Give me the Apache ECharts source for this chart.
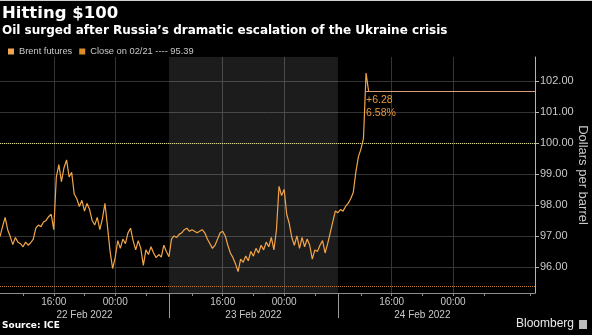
<!DOCTYPE html>
<html><head><meta charset="utf-8">
<script src="https://cdn.jsdelivr.net/npm/echarts@6/dist/echarts.min.js"></script>
<style>html,body{margin:0;padding:0;background:#000;}#c{width:592px;height:335px;}</style>
</head><body><div id="c"></div>
<script>
// ---- data ----
const sessionDates = ['2022-02-22','2022-02-23','2022-02-24','2022-02-25'];
const dateLabels = ['22 Feb 2022','23 Feb 2022','24 Feb 2022'];
const timeTickLabels = ['16:00','00:00'];
const yTickValues = [96,97,98,99,100,101,102];
// Brent futures, 20-minute samples, trading sessions 09:00 -> 07:00 (HK time)
const brentDay1 = [96.98,97.3,97.6,97.2,96.98,96.72,96.95,96.8,96.75,96.65,
  96.8,96.7,96.78,96.9,97.25,97.35,97.3,97.45,97.5,97.62,
  97.7,97.2,98.9,99.3,98.75,99.2,99.45,98.9,99.05,98.35,
  98.2,97.95,98.15,97.8,98.05,97.85,97.5,97.35,97.6,97.2,
  97.55,98.05,97.3,96.5,95.95,96.3,96.85,96.6,96.9,96.75,
  97.1,97.25,96.85,96.55,96.85,96.6,96.05,96.55,96.4,96.65,
  96.45,96.3,96.4,96.32,96.7,96.5];
const brentDay2 = [96.33,96.9,97.0,96.95,97.05,97.1,97.2,97.25,97.15,97.2,
  97.15,97.1,97.15,97.2,97.1,96.9,96.75,96.6,96.7,96.9,
  97.1,97.15,97.0,96.7,96.45,96.3,96.1,95.85,96.25,96.15,
  96.35,96.2,96.5,96.35,96.6,96.45,96.7,96.55,96.8,96.65,
  96.95,96.55,97.2,98.6,98.3,98.5,97.7,97.4,96.95,96.7,
  97.0,96.6,96.95,96.65,96.9,96.7,96.25,96.55,96.5,96.7,
  96.85,96.45,96.75,97.1,97.45,97.8];
const brentDay3 = [97.75,97.85,97.8,97.95,98.05,98.2,98.4,99.05,99.55,99.8,100.15,102.25,101.67];
const closeValue = 95.39;
const thresholdValue = 100;
const lastValue = 101.67;
const changeLabels = ['+6.28','6.58%'];

// ---- axis categories (20-minute slots of 22h sessions) ----
const SLOTS = 66;
const cats = [];
sessionDates.forEach((d, di) => {
  const n = di < 3 ? SLOTS : 12;
  for (let k = 0; k < n; k++) {
    const mins = 9 * 60 + k * 20;
    const h = Math.floor(mins / 60) % 24, m = mins % 60;
    cats.push(d + ' ' + String(h).padStart(2, '0') + ':' + String(m).padStart(2, '0'));
  }
});
const timeOf = v => v.slice(11);
const brent = brentDay1.concat(brentDay2, brentDay3);
const lastIdx = brent.length - 2;

const FONT = 'Liberation Sans';
const LBL = '#c9c9c9';
const chart = echarts.init(document.getElementById('c'), null, {renderer: 'canvas'});
chart.setOption({
  backgroundColor: '#000',
  animation: false,
  title: [
    {text: 'Hitting $100', left: 2, top: 5, padding: 0,
     textStyle: {color: '#fff', fontSize: 16.5, fontWeight: 'bold', fontFamily: 'DejaVu Sans'}},
    {text: 'Oil surged after Russia\u2019s dramatic escalation of the Ukraine crisis', left: 2, top: 25, padding: 0,
     textStyle: {color: '#fff', fontSize: 12, fontWeight: 'bold', fontFamily: 'DejaVu Sans'}}
  ],
  legend: {
    left: 8, top: 47, itemWidth: 6, itemHeight: 6, itemGap: 7, icon: 'rect', padding: 0,
    textStyle: {color: LBL, fontSize: 9.3, fontFamily: FONT},
    data: ['Brent futures', 'Close on 02/21 ---- ' + closeValue.toFixed(2)]
  },
  grid: {left: 0, right: 57, top: 57, bottom: 42, outerBoundsMode: 'none', containLabel: false},
  xAxis: [
    {
      type: 'category', data: cats, boundaryGap: false, position: 'bottom',
      axisLine: {lineStyle: {color: '#8c8c8c'}},
      axisTick: {show: true, length: 3, lineStyle: {color: '#8c8c8c'},
        interval: (i, v) => { const t = timeOf(v); return t.endsWith(':00') && (+t.slice(0, 2)) % 4 === 0; }},
      axisLabel: {color: LBL, fontSize: 10, fontFamily: FONT, margin: 4,
        interval: (i, v) => timeTickLabels.includes(timeOf(v)), formatter: v => timeOf(v)},
      splitLine: {show: true, lineStyle: {color: '#353535'},
        interval: (i, v) => timeTickLabels.includes(timeOf(v))}
    },
    {
      type: 'category', data: cats, boundaryGap: false, position: 'bottom',
      axisLine: {show: false},
      axisTick: {show: true, length: 25, lineStyle: {color: '#9a9a9a'},
        interval: (i) => i > 0 && i % SLOTS === 0 && i / SLOTS < dateLabels.length},
      axisLabel: {color: LBL, fontSize: 10, fontFamily: FONT, margin: 17,
        interval: (i) => i % SLOTS === SLOTS / 2 && Math.floor(i / SLOTS) < dateLabels.length,
        formatter: (v, i) => dateLabels[Math.floor(i / SLOTS)]},
      splitLine: {show: false}
    }
  ],
  yAxis: {
    type: 'value', position: 'right', min: 95.16, max: 102.77, scale: true,
    axisLine: {show: true, lineStyle: {color: '#b5b5b5'}},
    axisTick: {show: true, length: 4, customValues: yTickValues, lineStyle: {color: '#b5b5b5'}},
    axisLabel: {customValues: yTickValues, formatter: v => v.toFixed(2), color: LBL, fontSize: 11, fontFamily: FONT, margin: 5},
    splitLine: {show: true, lineStyle: {color: '#333'}},
    name: 'Dollars per barrel', nameLocation: 'middle', nameRotate: -90, nameGap: 41, nameMoveOverlap: false,
    nameTextStyle: {color: LBL, fontSize: 13, fontFamily: FONT}
  },
  series: [
    {
      name: 'Brent futures', type: 'line', data: brent, showSymbol: false, symbol: 'none',
      lineStyle: {color: '#f2a548', width: 1.2}, itemStyle: {color: '#f0a552'},
      markArea: {silent: true, itemStyle: {color: 'rgba(255,255,255,0.11)'},
        data: [[{xAxis: SLOTS}, {xAxis: SLOTS * 2}]]},
      markLine: {silent: true, symbol: 'none', animation: false,
        data: [
          {yAxis: thresholdValue, lineStyle: {color: '#d8d690', type: 'dotted', width: 1}, label: {show: false}},
          [{coord: [lastIdx, lastValue], lineStyle: {color: '#d9a07c', type: 'solid', width: 1},
            label: {show: true, position: 'insideStartBottom', formatter: changeLabels.join('\n'),
              color: '#e8963c', fontSize: 10.5, fontFamily: FONT, lineHeight: 13, distance: [0, 2]}},
           {coord: [cats.length - 1, lastValue]}]
        ]}
    },
    {
      name: 'Close on 02/21 ---- ' + closeValue.toFixed(2), type: 'line', data: [],
      itemStyle: {color: '#d98c28'}, lineStyle: {color: '#d98c28'},
      markLine: {silent: true, symbol: 'none', animation: false,
        data: [{yAxis: closeValue}],
        lineStyle: {color: '#c07a32', type: 'dotted', width: 1}, label: {show: false}}
    }
  ],
  graphic: [
    {type: 'text', left: 2, top: 321, style: {text: 'Source: ICE', fill: '#fff', font: 'bold 9px "DejaVu Sans"'}},
    {type: 'text', left: 516, top: 318, style: {text: 'Bloomberg', fill: '#e8e8e8', font: '12px "Liberation Sans"'}},
    {type: 'rect', shape: {x: 579, y: 320, width: 8, height: 9}, style: {fill: '#bdbdbd'}},
    {type: 'rect', shape: {x: 0, y: 0, width: 592, height: 1}, style: {fill: '#d0d0d0'}}
  ]
});
</script></body></html>
